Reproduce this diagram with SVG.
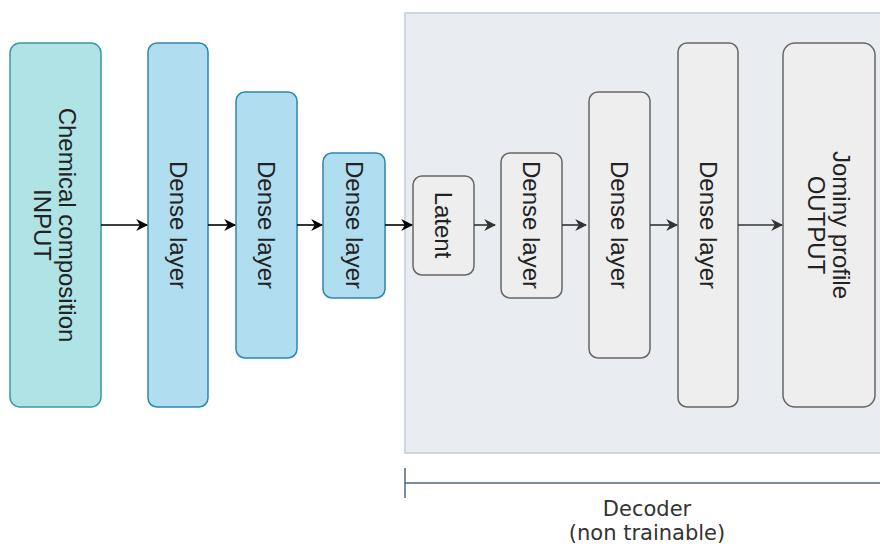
<svg xmlns="http://www.w3.org/2000/svg" width="880" height="544" viewBox="0 0 880 544">
<defs>
<style>
.enc-in{fill:#b0e3e6;stroke:#3a9aa0;stroke-width:1.5}
.enc{fill:#b1ddf0;stroke:#2b86ad;stroke-width:1.5}
.dec{fill:#eeeeee;stroke:#666666;stroke-width:1.5}
.lbl{font-family:"Liberation Sans",Arial,sans-serif;font-size:24px;fill:#222;text-anchor:middle;dominant-baseline:central}
.conn{fill:none;stroke-width:1.6}
.k{stroke:#000}
.g{stroke:#333}
.cap{font-family:"DejaVu Sans",Verdana,sans-serif;font-size:21px;fill:#333;text-anchor:middle}
</style>
<marker id="ak" viewBox="0 0 10 10" refX="9" refY="5" markerWidth="12" markerHeight="12" markerUnits="userSpaceOnUse" orient="auto"><path d="M0,0 L10,5 L0,10 L3,5 z" fill="#000"/></marker>
<marker id="ag" viewBox="0 0 10 10" refX="9" refY="5" markerWidth="12" markerHeight="12" markerUnits="userSpaceOnUse" orient="auto"><path d="M0,0 L10,5 L0,10 L3,5 z" fill="#333"/></marker>
</defs>
<rect width="880" height="544" fill="#ffffff"/>
<g id="decoder-region">
<rect x="405" y="13" width="480" height="440" fill="#e9edf2" stroke="#c3ccd6" stroke-width="1.5"/>
</g>
<g id="input">
<rect class="enc-in" x="10" y="43" width="91" height="364" rx="10"/>
<text class="lbl" x="55.5" y="225" transform="rotate(90 55.5 225)"><tspan x="55.5" dy="-12.5">Chemical composition</tspan><tspan x="55.5" dy="25">INPUT</tspan></text>
</g>
<g id="dense1">
<rect class="enc" x="148" y="43" width="60" height="364" rx="9"/>
<text class="lbl" x="178" y="225" transform="rotate(90 178 225)">Dense layer</text>
</g>
<g id="dense2">
<rect class="enc" x="236" y="92" width="61" height="266" rx="9"/>
<text class="lbl" x="266.5" y="225" transform="rotate(90 266.5 225)">Dense layer</text>
</g>
<g id="dense3">
<rect class="enc" x="323" y="153" width="62" height="145" rx="9"/>
<text class="lbl" x="354" y="225" transform="rotate(90 354 225)">Dense layer</text>
</g>
<g id="latent">
<rect class="dec" x="413" y="176" width="61" height="99" rx="9"/>
<text class="lbl" x="443.5" y="225" transform="rotate(90 443.5 225)">Latent</text>
</g>
<g id="dense4">
<rect class="dec" x="501" y="153" width="61" height="145" rx="9"/>
<text class="lbl" x="531.5" y="225" transform="rotate(90 531.5 225)">Dense layer</text>
</g>
<g id="dense5">
<rect class="dec" x="589" y="92" width="61" height="266" rx="9"/>
<text class="lbl" x="619.5" y="225" transform="rotate(90 619.5 225)">Dense layer</text>
</g>
<g id="dense6">
<rect class="dec" x="678" y="43" width="60" height="364" rx="9"/>
<text class="lbl" x="708" y="225" transform="rotate(90 708 225)">Dense layer</text>
</g>
<g id="output">
<rect class="dec" x="783" y="43" width="92" height="364" rx="12"/>
<text class="lbl" x="829" y="225" transform="rotate(90 829 225)"><tspan x="829" dy="-12.5">Jominy profile</tspan><tspan x="829" dy="25">OUTPUT</tspan></text>
</g>
<g id="connectors">
<line class="conn k" x1="101" y1="225" x2="147" y2="225" marker-end="url(#ak)"/>
<line class="conn k" x1="208" y1="225" x2="235" y2="225" marker-end="url(#ak)"/>
<line class="conn k" x1="297" y1="225" x2="322" y2="225" marker-end="url(#ak)"/>
<line class="conn k" x1="385" y1="225" x2="412" y2="225" marker-end="url(#ak)"/>
<line class="conn g" x1="474" y1="225" x2="495" y2="225" marker-end="url(#ag)"/>
<line class="conn g" x1="562" y1="225" x2="586" y2="225" marker-end="url(#ag)"/>
<line class="conn g" x1="650" y1="225" x2="677" y2="225" marker-end="url(#ag)"/>
<line class="conn g" x1="738" y1="225" x2="782" y2="225" marker-end="url(#ag)"/>
</g>
<g id="decoder-bracket">
<line x1="405" y1="468" x2="405" y2="498" stroke="#4d6680" stroke-width="1.5"/>
<line x1="405" y1="483" x2="880" y2="483" stroke="#4d6680" stroke-width="1.5"/>
<text class="cap" x="647" y="516">Decoder</text>
<text class="cap" x="647" y="540">(non trainable)</text>
</g>
</svg>
